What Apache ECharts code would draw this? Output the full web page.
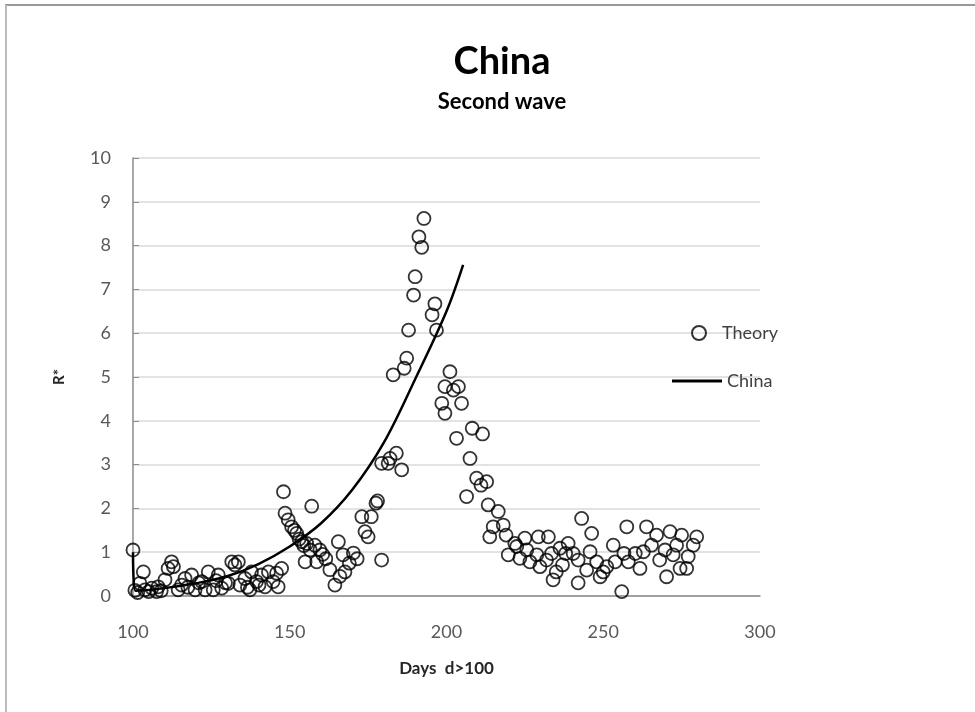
<!DOCTYPE html>
<html style="height: 100%">

<head>
  <meta charset="utf-8">
  <script src="https://cdn.jsdelivr.net/npm/echarts@6/dist/echarts.min.js"></script>
</head>

<body style="height: 100%; margin: 0; background: #fff">
  <div id="container" style="width: 975px; height: 712px"></div>
  <script type="text/javascript">
    // 散点：R* 观测值 [天数, R*]
    var theoryPoints = [
      [100, 1.05], [100.6, 0.13], [101.5, 0.08], [102.2, 0.29], [103.3, 0.55], [103.8, 0.14], [105, 0.1],
      [106, 0.18], [107.5, 0.1], [108, 0.21], [109, 0.12], [110.2, 0.37], [111.2, 0.63], [112.3, 0.78],
      [112.9, 0.67], [114.4, 0.14], [115.5, 0.25], [116.6, 0.4], [117.5, 0.2], [118.7, 0.48], [119.8, 0.14],
      [121, 0.3], [121.9, 0.33], [123, 0.14], [124, 0.55], [125.6, 0.14], [126.5, 0.35], [127.2, 0.48],
      [128.3, 0.18], [129.5, 0.3], [130.4, 0.29], [131.5, 0.78], [132.5, 0.71], [133.6, 0.78], [134.1, 0.25],
      [135.7, 0.4], [136.5, 0.2], [137.3, 0.14], [137.8, 0.55], [139.4, 0.33], [140.2, 0.25], [141, 0.48],
      [142.1, 0.21], [143.2, 0.55], [144.7, 0.33], [145.8, 0.52], [146.3, 0.21], [147.4, 0.63],
      [148, 2.38], [148.5, 1.89], [149.5, 1.74], [150.6, 1.58], [151.5, 1.5], [152.2, 1.43], [153, 1.3],
      [153.8, 1.24], [154.5, 1.15], [155.4, 1.2], [154.9, 0.78], [156.5, 1.05], [157, 2.05], [158, 1.16],
      [158.6, 0.78], [159.6, 1.05], [160.5, 0.95], [161.5, 0.85], [162.8, 0.6], [164.4, 0.25], [165.5, 1.24],
      [166, 0.45], [167, 0.94], [167.6, 0.55], [169, 0.75], [170.3, 0.98], [171.5, 0.85], [173, 1.81],
      [174, 1.47], [175, 1.35], [176, 1.81], [177.5, 2.12], [178, 2.17], [179.3, 0.82], [179.3, 3.03],
      [181.4, 3.03], [182, 3.14], [184, 3.26], [185.7, 2.88],
      [183, 5.05], [186.5, 5.2], [187.3, 5.43], [187.9, 6.07], [189.5, 6.87], [190, 7.29], [191.2, 8.2],
      [192.1, 7.96], [192.8, 8.62], [195.4, 6.42], [196.3, 6.67], [196.8, 6.07],
      [201.1, 5.12], [199.5, 4.78], [203.8, 4.78], [202.2, 4.7], [198.5, 4.4], [204.8, 4.4], [199.5, 4.17],
      [203.2, 3.6], [208.2, 3.83], [211.5, 3.7], [207.5, 3.14], [209.6, 2.69], [211, 2.53], [212.8, 2.61],
      [206.4, 2.27], [213.3, 2.08], [216.5, 1.93], [214.9, 1.58], [218.1, 1.62], [213.8, 1.35], [219, 1.39],
      [219.7, 0.94], [221.8, 1.2], [222.4, 1.13], [223.4, 0.86], [225, 1.32], [225.6, 1.05], [226.6, 0.78],
      [228.8, 0.94], [229.3, 1.35], [229.8, 0.67], [231.9, 0.82], [232.5, 1.35], [233.5, 0.97], [234, 0.37],
      [235, 0.55], [236.2, 1.09], [237, 0.71], [238, 0.97], [238.8, 1.2], [240.4, 0.97], [242, 0.82],
      [242, 0.3], [243.1, 1.77], [244.7, 0.59], [245.8, 1.01], [246.3, 1.43], [247.9, 0.78], [249, 0.44],
      [250, 0.55], [251.1, 0.67], [253.2, 1.16], [253.8, 0.78], [255.9, 0.1], [256.6, 0.97], [257.5, 1.58],
      [258, 0.78], [260.2, 0.97], [261.7, 0.63], [262.8, 1.01], [263.8, 1.58], [265.4, 1.16], [267, 1.39],
      [268, 0.82], [269.7, 1.05], [270.2, 0.44], [271.3, 1.47], [272.3, 0.94], [273.4, 1.16], [274.5, 0.63],
      [275, 1.39], [276.6, 0.63], [277.1, 0.9], [278.7, 1.16], [279.8, 1.35]
    ];

    // 折线：China 曲线
    var chinaDays = [100, 100.8, 110, 120, 130, 140, 150, 160, 170, 180, 190, 200, 205.3];
    var chinaR = [1.0, 0.12, 0.18, 0.29, 0.45, 0.73, 1.13, 1.66, 2.43, 3.5, 4.95, 6.5, 7.56];

    var xTicks = { min: 100, max: 300, step: 50 };
    var yTicks = { min: 0, max: 10, step: 1 };

    var dom = document.getElementById("container");
    var myChart = echarts.init(dom, null, { renderer: 'canvas' });

    var option = {
      backgroundColor: '#fff',
      animation: false,
      textStyle: { fontFamily: 'Lato' },
      title: {
        text: 'China',
        subtext: 'Second wave',
        left: 497,
        textAlign: 'center',
        top: 38,
        itemGap: 10,
        textStyle: { fontSize: 38, fontWeight: 'bold', color: '#000', fontFamily: 'Lato' },
        subtextStyle: { fontSize: 22, fontWeight: 'bold', color: '#000', fontFamily: 'Lato' }
      },
      // 两个图例分开摆放，和原图一致
      legend: [
        {
          left: 686,
          top: 319,
          itemWidth: 36,
          itemHeight: 14,
          textStyle: { fontSize: 18, color: '#404040', fontFamily: 'Lato' },
          data: [{ name: 'Theory', icon: 'circle' }]
        },
        {
          left: 667,
          top: 367,
          itemWidth: 50,
          itemHeight: 3,
          textStyle: { fontSize: 18, color: '#404040', fontFamily: 'Lato' },
          data: [{ name: 'China', icon: 'rect', itemStyle: { color: '#000' } }]
        }
      ],
      grid: { left: 133, right: 215, top: 158, bottom: 116 },
      xAxis: {
        type: 'value',
        min: xTicks.min,
        max: xTicks.max,
        interval: xTicks.step,
        name: 'Days  d>100',
        nameLocation: 'middle',
        nameGap: 64,
        nameTextStyle: { fontSize: 17, fontWeight: 'bold', color: '#262626' },
        axisLine: { lineStyle: { color: '#8c8c8c', width: 1.5 } },
        axisTick: { show: false },
        axisLabel: { fontSize: 18, color: '#595959', margin: 27 },
        splitLine: { show: false }
      },
      yAxis: {
        type: 'value',
        min: yTicks.min,
        max: yTicks.max,
        interval: yTicks.step,
        name: 'R*',
        nameLocation: 'middle',
        nameRotate: 90,
        nameGap: 66,
        nameTextStyle: { fontSize: 15, fontWeight: 'bold', color: '#262626' },
        axisLine: { show: true, lineStyle: { color: '#8c8c8c', width: 1.5 } },
        axisTick: { show: true, inside: true, length: 6, lineStyle: { color: '#8c8c8c' } },
        axisLabel: { fontSize: 18, color: '#595959', margin: 22 },
        splitLine: { lineStyle: { color: '#dadada', width: 1.5 } }
      },
      graphic: [
        { type: 'line', shape: { x1: 5, y1: 5, x2: 975, y2: 5 }, style: { stroke: '#999', lineWidth: 2 } },
        { type: 'line', shape: { x1: 6, y1: 5, x2: 6, y2: 712 }, style: { stroke: '#bbb', lineWidth: 2 } }
      ],
      series: [
        {
          name: 'Theory',
          type: 'scatter',
          symbol: 'circle',
          symbolSize: 13,
          itemStyle: { color: 'rgba(255,255,255,0)', borderColor: '#000', borderWidth: 1.8 },
          data: theoryPoints,
          z: 3
        },
        {
          name: 'China',
          type: 'line',
          showSymbol: false,
          symbol: 'none',
          smooth: 0.35,
          lineStyle: { color: '#000', width: 2.5 },
          itemStyle: { color: '#000' },
          data: chinaDays.map(function (d, i) { return [d, chinaR[i]]; }),
          z: 4
        }
      ]
    };

    myChart.setOption(option, true);
  </script>
</body>

</html>
